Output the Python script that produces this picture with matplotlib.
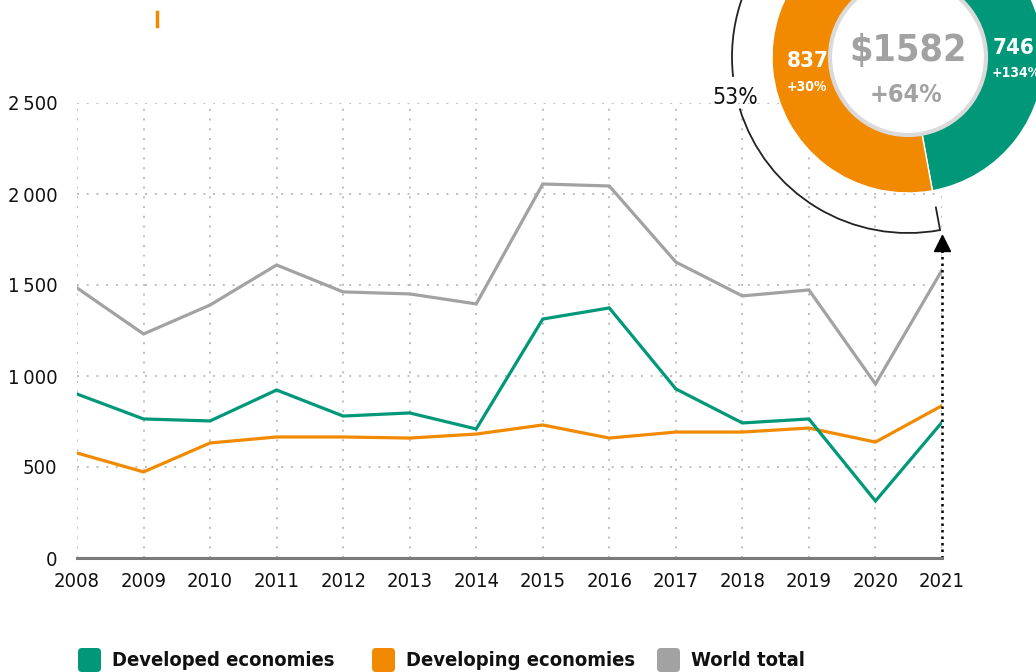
import matplotlib
matplotlib.use('Agg')
import matplotlib.pyplot as plt
from matplotlib.patches import Arc, Circle, FancyBboxPatch
import numpy as np

# 데이터
years = list(range(2008, 2022))
developed = [901, 764, 753, 923, 780, 797, 709, 1313, 1374, 929, 742, 764, 313, 746]
developing = [577, 473, 632, 665, 665, 659, 681, 731, 659, 692, 692, 714, 637, 837]
world = [1484, 1231, 1390, 1610, 1462, 1451, 1396, 2055, 2044, 1626, 1440, 1473, 956, 1582]
yticks = [0, 500, 1000, 1500, 2000, 2500]
ytick_labels = ['0', '500', '1\u2009000', '1\u2009500', '2\u2009000', '2\u2009500']
growth = {'world': '+64%', 'developed': '+134%', 'developing': '+30%'}
share_label = '53%'
legend_labels = ['Developed economies', 'Developing economies', 'World total']

GREEN = '#009878'
ORANGE = '#F18A00'
GRAY = '#A2A2A2'

plt.rcParams['font.family'] = ['DejaVu Sans']
plt.rcParams['font.stretch'] = 'condensed'

W, H = 1036, 672
fig = plt.figure(figsize=(W / 100, H / 100), dpi=100)
ax = fig.add_axes([77 / W, 1 - 558 / H, (942 - 77) / W, (558 - 103) / H])

# 선 그래프
ax.plot(years, world, color=GRAY, lw=2.3, solid_joinstyle='miter', zorder=3)
ax.plot(years, developing, color=ORANGE, lw=2.3, solid_joinstyle='miter', zorder=3)
ax.plot(years, developed, color=GREEN, lw=2.3, solid_joinstyle='miter', zorder=4)

# 2021 표시선과 삼각형
ax.plot([2021, 2021], [0, 1690], color='black', lw=1.8, ls=(0, (1, 1.6)), zorder=5, clip_on=False)
ax.plot([2021], [1731], marker='^', color='black', ms=11, zorder=5, clip_on=False)

ax.set_xlim(2008, 2021)
ax.set_ylim(0, 2500)
ax.set_xticks(years)
ax.set_xticklabels([str(y) for y in years], fontsize=14.5)
ax.set_yticks(yticks)
ax.set_yticklabels(ytick_labels, fontsize=14.5)
ax.tick_params(length=0, pad=14, colors='#111111')
ax.tick_params(axis='x', pad=10)
ax.grid(True, color='#BDBDBD', lw=1.4, ls=(0, (1, 4)))
for s in ['top', 'right', 'left']:
    ax.spines[s].set_visible(False)
ax.spines['bottom'].set_color('#7A7A7A')
ax.spines['bottom'].set_linewidth(2.2)
ax.spines['bottom'].set_zorder(6)

# 오버레이 (픽셀 좌표, y 위쪽)
ov = fig.add_axes([0, 0, 1, 1], zorder=10)
cx, cy = 908, H - 57
ov.pie([developed[-1], developing[-1]], colors=[GREEN, ORANGE], startangle=90,
       counterclock=False, radius=136, center=(cx, cy),
       wedgeprops=dict(width=60, edgecolor='white', linewidth=1))
ov.add_patch(Circle((cx, cy), 78, facecolor='white', edgecolor='#DADADA', lw=3))
ov.text(cx, cy + 6, '$%d' % world[-1], color=GRAY, fontsize=27, fontweight='bold',
        ha='center', va='center')
ov.text(cx - 2, cy - 38, growth['world'], color=GRAY, fontsize=18, fontweight='bold',
        ha='center', va='center')
ov.text(808, H - 61, str(developing[-1]), color='white', fontsize=16, fontweight='bold',
        ha='center', va='center')
ov.text(807, H - 87, growth['developing'], color='white', fontsize=10, fontweight='bold',
        ha='center', va='center')
ov.text(1014, H - 48, str(developed[-1]), color='white', fontsize=16, fontweight='bold',
        ha='center', va='center')
ov.text(1016, H - 73, growth['developed'], color='white', fontsize=10, fontweight='bold',
        ha='center', va='center')

# 바깥 호
R = 176
ov.add_patch(Arc((cx, cy), 2 * R, 2 * R, theta1=90, theta2=186.5, color='#222222', lw=1.3))
ov.add_patch(Arc((cx, cy), 2 * R, 2 * R, theta1=197, theta2=280.5, color='#222222', lw=1.3))
a = np.deg2rad(280.5)
ov.plot([cx + R * np.cos(a), cx + (R - 23) * np.cos(a)],
        [cy + R * np.sin(a), cy + (R - 23) * np.sin(a)], color='#222222', lw=1.3)
ov.text(735, H - 97, share_label, color='#111111', fontsize=16.5, ha='center', va='center')

# 위쪽 주황 표시
ov.plot([157, 157], [H - 12, H - 26], color=ORANGE, lw=2.5)

# 범례
legend_colors = [GREEN, ORANGE, GRAY]
legend_x = [78, 372, 657]
for lx, col, lab in zip(legend_x, legend_colors, legend_labels):
    ov.add_patch(FancyBboxPatch((lx + 3, 3), 17, 18, boxstyle='round,pad=3,rounding_size=4',
                                facecolor=col, edgecolor='none'))
    ov.text(lx + 34, 12, lab, fontsize=14.5, fontweight='bold', color='#111111',
            ha='left', va='center')

ov.set_xlim(0, W)
ov.set_ylim(0, H)
ov.set_aspect('auto')
ov.axis('off')

fig.savefig('out.png', dpi=100)
